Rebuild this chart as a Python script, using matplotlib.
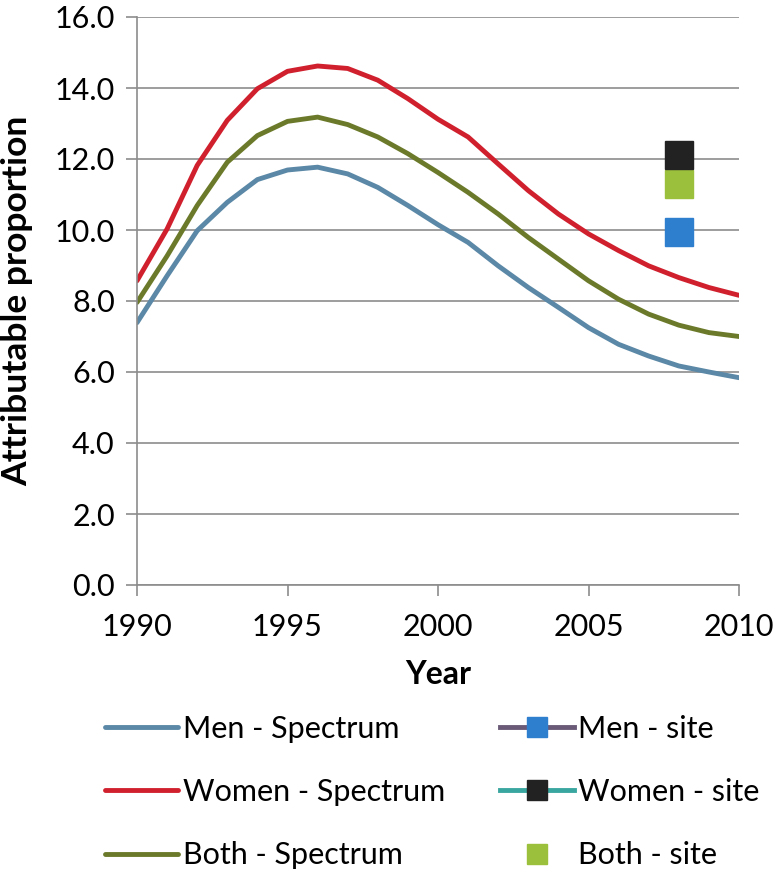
import matplotlib
matplotlib.use("Agg")
import matplotlib.pyplot as plt

plt.rcParams['font.family'] = ['Lato', 'DejaVu Sans']

# ---- data ----
YEARS = list(range(1990, 2011))
MEN = [7.39, 8.71, 9.98, 10.78, 11.42, 11.69, 11.77, 11.58, 11.20, 10.69, 10.15,
       9.65, 8.99, 8.38, 7.82, 7.25, 6.78, 6.45, 6.17, 6.00, 5.84]
WOMEN = [8.57, 10.03, 11.82, 13.09, 13.98, 14.47, 14.62, 14.55, 14.22, 13.70, 13.12,
         12.62, 11.86, 11.11, 10.45, 9.89, 9.42, 8.99, 8.66, 8.38, 8.16]
BOTH = [7.96, 9.27, 10.69, 11.91, 12.66, 13.06, 13.18, 12.97, 12.62, 12.15, 11.62,
        11.06, 10.45, 9.79, 9.18, 8.57, 8.05, 7.63, 7.32, 7.11, 7.00]
SITE_YEAR = [2008]
MEN_SITE = [9.93]
WOMEN_SITE = [12.1]
BOTH_SITE = [11.3]
YTICKS = [0, 2, 4, 6, 8, 10, 12, 14, 16]
XTICKS = [1990, 1995, 2000, 2005, 2010]

fig = plt.figure(figsize=(7.78, 8.82), dpi=100)
ax = fig.add_axes([137/778, 1 - 585/882, (739-137)/778, (585-17)/882])

LW = 3.5
ax.plot(YEARS, MEN, color="#5a88a6", lw=LW, solid_capstyle="round", label="Men - Spectrum")
ax.plot(YEARS, WOMEN, color="#d0202e", lw=LW, solid_capstyle="round", label="Women - Spectrum")
ax.plot(YEARS, BOTH, color="#6b7a2a", lw=LW, solid_capstyle="round", label="Both - Spectrum")
ax.plot(SITE_YEAR, WOMEN_SITE, color="#3aa6a0", lw=LW, marker="s", ms=20,
        mfc="#222222", mec="#222222", label="Women - site", zorder=4)
ax.plot(SITE_YEAR, BOTH_SITE, ls="none", marker="s", ms=20,
        mfc="#9bc13c", mec="#9bc13c", label="Both - site", zorder=3)
ax.plot(SITE_YEAR, MEN_SITE, color="#6a5a78", lw=LW, marker="s", ms=20,
        mfc="#2f7fcf", mec="#2f7fcf", label="Men - site", zorder=4)

ax.set_xlim(1990, 2010)
ax.set_ylim(0, 16)
ax.set_xticks(XTICKS)
ax.set_yticks(YTICKS)
ax.set_yticklabels([f"{v:.1f}" for v in YTICKS])
ax.grid(axis="y", color="#8c8c8c", lw=1.2)
ax.set_axisbelow(True)
for s in ("top", "right"):
    ax.spines[s].set_visible(False)
for s in ("left", "bottom"):
    ax.spines[s].set_color("#8c8c8c")
    ax.spines[s].set_linewidth(1.2)
ax.tick_params(axis="both", labelsize=22, color="#8c8c8c", width=1.2, length=8)
ax.tick_params(axis="x", pad=12)
ax.tick_params(axis="y", pad=8)
ax.set_ylabel("Attributable proportion", fontsize=25.5, fontweight="bold")
ax.yaxis.set_label_coords(-(137-17)/602, 0.5)
ax.set_xlabel("Year", fontsize=23, fontweight="bold")
ax.xaxis.set_label_coords(0.5, -(675-585)/568)
ax.xaxis.label.set_va("center")
ax.yaxis.label.set_va("center")

# legend, column order as in the reference
h, l = ax.get_legend_handles_labels()
order = ["Men - Spectrum", "Women - Spectrum", "Both - Spectrum",
         "Men - site", "Women - site", "Both - site"]
hs = [h[l.index(o)] for o in order]
fig.legend(hs, order, loc="upper left", bbox_to_anchor=(105/778, 1 - 715/882), ncol=2,
           frameon=False, fontsize=22, handlelength=2.4, handletextpad=0.15,
           columnspacing=1.8, labelspacing=1.15, markerscale=0.75,
           borderpad=0, borderaxespad=0)

fig.savefig("out.png", dpi=100)
